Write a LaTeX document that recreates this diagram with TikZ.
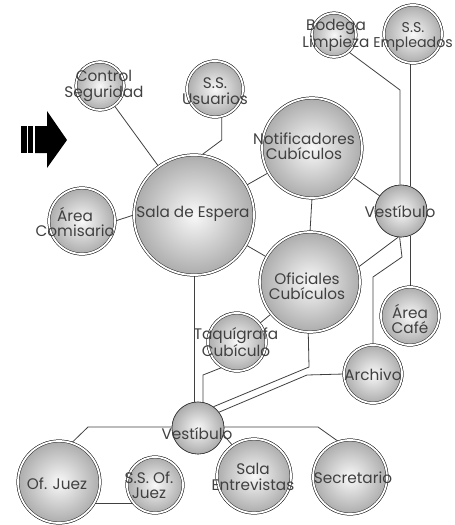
\documentclass[tikz,border=0pt]{standalone}
\usepackage{fontspec}
\setmainfont{Poppins}
\usetikzlibrary{calc}
\begin{document}
\begin{tikzpicture}[x=1pt,y=-1pt,
  ball/.style={circle, inner sep=0pt, minimum size=#1, draw=black!85, line width=0.5pt,
    double=white, double distance=1.8pt, shade, inner color=gray!5, outer color=gray!65},
  vball/.style={circle, inner sep=0pt, minimum size=#1, draw=black!80, line width=0.6pt,
    shade, inner color=gray!5, outer color=gray!65},
  txt/.style={font=\fontsize{15.3}{15.5}\selectfont, align=center, text=black!75, inner sep=0pt},
  conn/.style={draw=black!75, line width=0.8pt}]
\useasboundingbox (0,0) rectangle (455,525);
% arrow
\fill[black] (21,126) rectangle (27,153);
\fill[black] (28,126) rectangle (33,153);
\fill[black] (35,126) -- (47,126) -- (47,111) -- (67,140) -- (47,168) -- (47,153) -- (35,153) -- cycle;
% coordinates for nodes
\coordinate (pctrl) at (100,86);
\coordinate (pssu) at (215,89);
\coordinate (psala) at (194,215);
\coordinate (pcom) at (82,221);
\coordinate (pnoti) at (312,148);
\coordinate (pofi) at (310,282);
\coordinate (pvesr) at (401,211);
\coordinate (pbod) at (334,35);
\coordinate (psse) at (413,34);
\coordinate (pcafe) at (410,316);
\coordinate (parch) at (373,374);
\coordinate (ptaq) at (237,342);
\coordinate (pvesb) at (198,428);
\coordinate (pofj) at (59,482);
\coordinate (pssj) at (155,485);
\coordinate (psale) at (254,476);
\coordinate (psec) at (350,477);
% circles
\node[ball=48pt] (ctrl) at (pctrl) {};
\node[ball=56pt] (ssu) at (pssu) {};
\node[ball=120pt] (sala) at (psala) {};
\node[ball=66pt] (com) at (pcom) {};
\node[ball=100pt] (noti) at (pnoti) {};
\node[ball=100pt] (ofi) at (pofi) {};
\node[vball=52pt] (vesr) at (pvesr) {};
\node[ball=44pt] (bod) at (pbod) {};
\node[ball=58pt] (sse) at (psse) {};
\node[ball=58pt] (cafe) at (pcafe) {};
\node[ball=58pt] (arch) at (parch) {};
\node[ball=58pt] (taq) at (ptaq) {};
\node[vball=52pt] (vesb) at (pvesb) {};
\node[ball=82pt] (ofj) at (pofj) {};
\node[ball=56pt] (ssj) at (pssj) {};
\node[ball=74pt] (sale) at (psale) {};
\node[ball=74pt] (sec) at (psec) {};
% connectors
\coordinate (k1) at (222,140);
\coordinate (k2) at (400,90);
\coordinate (k3) at (402,257);
\coordinate (k4) at (373,277);
\coordinate (k5) at (309,367);
\coordinate (k6) at (307,375);
\coordinate (k7) at (203,375);
\coordinate (k8) at (88,427);
\coordinate (k9) at (318,427);
\path[conn] (ctrl) -- (sala);
\path[conn] (ssu.-76) -- (ssu.-76 |- k1) -- (sala.83);
\path[conn] (com.east) -- (sala.west);
\path[conn] (sala) -- (noti);
\path[conn] (sala) -- (ofi);
\path[conn] (noti.south) -- (ofi.north);
\path[conn] (noti) -- (vesr);
\path[conn] (ofi.17) -- (vesr.264);
\path[conn] (bod.-49) -- (k2) -- (vesr.92);
\path[conn] (sse.-96) -- (sse.-96 |- vesr.72);
\path[conn] (vesr.-70) -- (vesr.-70 |- cafe.north);
\path[conn] (vesr.-93) -- (k3) -- (k4) -- (k4 |- arch.north);
\path[conn] (ofi.-92) -- (k5) -- (vesb.54);
\path[conn] (arch.west) -- (k6) -- (vesb.37);
\path[conn] (taq.240) -- (k7) -- (k7 |- vesb.78);
\path[conn] (taq) -- (ofi);
\path[conn] (sala.south) -- (sala.south |- vesb.101);
\path[conn] (ofj.72) -- (k8) -- (k9) -- (sec.108);
\path[conn] (vesb.-15) -- (sale.125);
\path[conn] (ofj.-31) -- (ofj.-31 -| ssj.220);
% redraw circles on top of connectors
\node[ball=48pt] at (pctrl) {};
\node[ball=56pt] at (pssu) {};
\node[ball=120pt] at (psala) {};
\node[ball=66pt] at (pcom) {};
\node[ball=100pt] at (pnoti) {};
\node[ball=100pt] at (pofi) {};
\node[vball=52pt] at (pvesr) {};
\node[ball=44pt] at (pbod) {};
\node[ball=58pt] at (psse) {};
\node[ball=58pt] at (pcafe) {};
\node[ball=58pt] at (parch) {};
\node[ball=58pt] at (ptaq) {};
\node[vball=52pt] at (pvesb) {};
\node[ball=82pt] at (pofj) {};
\node[ball=56pt] at (pssj) {};
\node[ball=74pt] at (psale) {};
\node[ball=74pt] at (psec) {};
% labels
\node[txt] (tctrl) at (104,86) {Control\\Seguridad};
\node[txt] (tssu) at (215,91) {S.S.\\Usuarios};
\node[txt] (tsala) at (193,214) {Sala de Espera};
\node[txt] (tcom) at (75,222) {Área\\Comisario};
\node[txt] (tnoti) at (304,146) {Notificadores\\Cubículos};
\node[txt] (tofi) at (307,286) {Oficiales\\Cubículos};
\node[txt] (tvesr) at (400,212) {Vestíbulo};
\node[txt] (tbod) at (336,35) {Bodega\\Limpieza};
\node[txt, font=\fontsize{14.2}{15.5}\selectfont] (tsse) at (413,37) {S.S.\\Empleados};
\node[txt] (tcafe) at (410,319) {Área\\Café};
\node[txt] (tarch) at (373,375) {Archivo};
\node[txt] (ttaq) at (236,342) {Taquígrafa\\Cubículo};
\node[txt] (tvesb) at (197,434) {Vestíbulo};
\node[txt] (tofj) at (57,484) {Of. Juez};
\node[txt] (tssj) at (149,485) {S.S. Of.\\Juez};
\node[txt] (tsale) at (253,477) {Sala\\Entrevistas};
\node[txt] (tsec) at (353,478) {Secretario};
\end{tikzpicture}
\end{document}
